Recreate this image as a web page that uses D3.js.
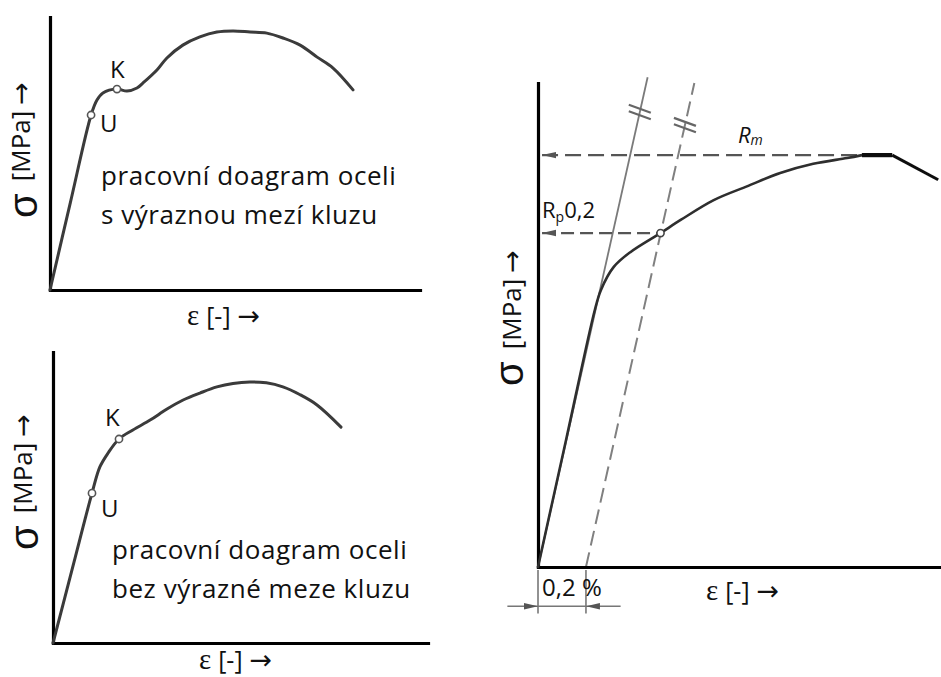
<!DOCTYPE html>
<html>
<head>
<meta charset="utf-8">
<script src="https://cdn.jsdelivr.net/npm/d3@7"></script>
<style>
  html, body { margin: 0; padding: 0; background: #fff; }
  svg { display: block; }
  text { font-family: "Open Sans", "Noto Sans", sans-serif; fill: #111; }
</style>
</head>
<body>
<svg id="chart" width="941" height="677"></svg>
<script>
// ---- Data: strain ε and stress σ in relative units (0–100 of each plot) ----

// Steel with a pronounced yield point (upper-left plot)
const curveWithYield = [
  [0, 0], [5.5, 32], [11.1, 64.1], [12.7, 69.6], [14.3, 72.2], [18.1, 73.6],
  [20.8, 72.9], [23.5, 74.0], [25.1, 75.8], [28.9, 80.6], [31.6, 85.0],
  [35.9, 89.7], [40.5, 92.7], [45.1, 94.5], [49.5, 94.9], [54.1, 94.5],
  [58.6, 94.1], [63.0, 92.3], [67.6, 89.7], [72.2, 85.3], [76.5, 81.3], [81.9, 73.3]
];
const pointsWithYield = [["U", 11.1, 64.1], ["K", 18.1, 73.6]];
const captionWithYield = ["pracovní doagram oceli", "s výraznou mezí kluzu"];

// Steel without a pronounced yield point (lower-left plot)
const curveNoYield = [
  [0, 0], [5.2, 25.8], [10.4, 51.5], [12.5, 60.5], [14.7, 65.3], [17.6, 70.1],
  [21.3, 73.2], [25.9, 76.6], [30.4, 80.4], [34.7, 83.5], [39.2, 85.9],
  [43.7, 88.0], [48.0, 89.2], [52.5, 89.7], [56.9, 89.4], [61.3, 88.0],
  [65.9, 85.3], [70.4, 81.8], [76.8, 74.2]
];
const pointsNoYield = [["U", 10.4, 51.5], ["K", 17.6, 70.1]];
const captionNoYield = ["pracovní doagram oceli", "bez výrazné meze kluzu"];

// Offset (proof stress) construction (right plot)
const proofCurve = [
  [0, 0], [7.0, 26.4], [14.1, 53.1], [15.6, 57.2], [18.8, 62.0], [23.0, 65.1],
  [30.4, 69.0], [35.4, 71.7], [43.6, 75.8], [52.0, 78.7], [60.1, 81.4],
  [68.3, 83.3], [76.7, 84.5], [80.4, 85.1]
];
const neckPlateau = [[80.4, 85.1], [87.9, 85.1]];
const neckDrop = [[87.9, 85.1], [99.3, 80.0]];
const elasticLine = [[0, 0], [27.2, 101.2]];
const offsetLine = [[11.9, 0], [38.8, 100]];
const offsetStrain = 11.9;        // 0,2 % plastic strain
const Rm = 85.1;                  // tensile strength
const Rp02 = 69.0;                // 0,2 % proof stress
const rpPoint = [30.4, 69.0];

const yLabel = ["σ", "[MPa]", "→"];
const xLabel = ["ε", "[-]", "→"];

// ---- Drawing ----
const svg = d3.select("#chart");

const defs = svg.append("defs");
defs.append("marker")
  .attr("id", "arrowHead")
  .attr("viewBox", "0 -5 14 10")
  .attr("refX", 14).attr("refY", 0)
  .attr("markerUnits", "userSpaceOnUse")
  .attr("markerWidth", 14).attr("markerHeight", 10)
  .attr("orient", "auto-start-reverse")
  .append("path")
  .attr("d", "M0,-3.2 L14,0 L0,3.2 Z")
  .attr("fill", "#555");
defs.append("filter").attr("id", "soft")
  .attr("filterUnits", "userSpaceOnUse")
  .attr("x", 0).attr("y", 0).attr("width", 941).attr("height", 677)
  .append("feGaussianBlur").attr("stdDeviation", 0.55);

function drawAxes(g, x, y) {
  g.append("g")
    .attr("transform", `translate(0,${y(0)})`)
    .call(d3.axisBottom(x).tickValues([]).tickSizeOuter(0))
    .call(a => a.select(".domain").attr("stroke", "#000").attr("stroke-width", 3.2).attr("stroke-linecap", "square"));
  g.append("g")
    .attr("transform", `translate(${x(0)},0)`)
    .call(d3.axisLeft(y).tickValues([]).tickSizeOuter(0))
    .call(a => a.select(".domain").attr("stroke", "#000").attr("stroke-width", 3.2).attr("stroke-linecap", "square"));
}

// Vertical stress label; baseX is the baseline of σ (rotated text)
function drawYLabel(g, baseX, cy, unitShift) {
  const t = g.append("text")
    .attr("transform", `translate(${baseX},${cy}) rotate(-90)`)
    .attr("text-anchor", "middle");
  t.append("tspan").attr("font-family", "'Liberation Sans', sans-serif").attr("font-size", 40).text(yLabel[0]);
  t.append("tspan").attr("font-size", 26).attr("dx", 12).attr("dy", -unitShift).text(yLabel[1]);
  t.append("tspan").attr("font-family", "'DejaVu Sans', sans-serif").attr("font-size", 27).attr("dx", 6).text(yLabel[2]);
}

function drawXLabel(g, lx, baseline) {
  const t = g.append("text").attr("x", lx).attr("y", baseline);
  t.append("tspan").attr("font-family", "'Liberation Serif', serif").attr("font-size", 29).text(xLabel[0]);
  t.append("tspan").attr("font-size", 25).attr("dx", 7).text(xLabel[1]);
  t.append("tspan").attr("font-family", "'DejaVu Sans', sans-serif").attr("font-size", 27).attr("dx", 7).text(xLabel[2]);
}

function drawSmallPanel(opts) {
  const { curve, points, caption, xr, yr, yLab, xLab, cap, kOff, uOff } = opts;
  const x = d3.scaleLinear().domain([0, 100]).range(xr);
  const y = d3.scaleLinear().domain([0, 100]).range(yr);
  const g = svg.append("g");
  drawAxes(g, x, y);

  const line = d3.line().x(d => x(d[0])).y(d => y(d[1])).curve(d3.curveCatmullRom.alpha(0.5));
  g.append("path").datum(curve)
    .attr("d", line)
    .attr("fill", "none").attr("stroke", "#3a3a3a").attr("stroke-width", 3)
    .attr("stroke-linejoin", "round").attr("stroke-linecap", "round")
    .attr("filter", "url(#soft)");

  g.selectAll("circle.pt").data(points).join("circle")
    .attr("class", "pt")
    .attr("cx", d => x(d[1])).attr("cy", d => y(d[2])).attr("r", 3.6)
    .attr("fill", "#fff").attr("stroke", "#555").attr("stroke-width", 1.6);

  g.selectAll("text.pt").data(points).join("text")
    .attr("class", "pt")
    .attr("x", d => x(d[1]) + (d[0] === "K" ? kOff[0] : uOff[0]))
    .attr("y", d => y(d[2]) + (d[0] === "K" ? kOff[1] : uOff[1]))
    .attr("font-size", 24)
    .text(d => d[0]);

  g.selectAll("text.cap").data(caption).join("text")
    .attr("class", "cap")
    .attr("x", cap[0]).attr("y", (d, i) => cap[1] + i * 38.5)
    .attr("font-size", 26).attr("letter-spacing", 0.55)
    .text(d => d);

  drawYLabel(g, yLab[0], yLab[1], yLab[2]);
  drawXLabel(g, xLab[0], xLab[1]);
}

drawSmallPanel({
  curve: curveWithYield, points: pointsWithYield, caption: captionWithYield,
  xr: [50, 420], yr: [290, 17],
  yLab: [37, 150, 7], xLab: [187, 325], cap: [101, 185],
  kOff: [-7, -11], uOff: [9, 17]
});

drawSmallPanel({
  curve: curveNoYield, points: pointsNoYield, caption: captionNoYield,
  xr: [53, 428], yr: [643, 352],
  yLab: [38, 482, 6], xLab: [199, 669], cap: [112, 559],
  kOff: [-14, -13], uOff: [9, 24]
});

// ---- Right plot: 0,2 % proof stress construction ----
(function () {
  const x = d3.scaleLinear().domain([0, 100]).range([538, 941]);
  const y = d3.scaleLinear().domain([0, 100]).range([567, 83]);
  const g = svg.append("g");
  const straight = d3.line().x(d => x(d[0])).y(d => y(d[1]));
  const smooth = d3.line().x(d => x(d[0])).y(d => y(d[1])).curve(d3.curveCatmullRom.alpha(0.5));

  // elastic line extended beyond the proportional limit
  g.append("path").datum(elasticLine).attr("d", straight)
    .attr("fill", "none").attr("stroke", "#7a7a7a").attr("stroke-width", 1.8)
    .attr("filter", "url(#soft)");
  // parallel line shifted by 0,2 %
  g.append("path").datum(offsetLine).attr("d", straight)
    .attr("fill", "none").attr("stroke", "#808080").attr("stroke-width", 2)
    .attr("stroke-dasharray", "15 7").attr("filter", "url(#soft)");

  // break marks on both lines
  const breakMarks = [
    [(94.0 / elasticLine[1][1]) * elasticLine[1][0], 94.0],
    [offsetStrain + 91.3 * (offsetLine[1][0] - offsetLine[0][0]) / offsetLine[1][1], 91.3]
  ];
  breakMarks.forEach(p => {
    const cx = x(p[0]), cy = y(p[1]);
    [-3.2, 3.2].forEach(o => {
      g.append("line")
        .attr("x1", cx - 11).attr("y1", cy - 4 + o)
        .attr("x2", cx + 11).attr("y2", cy + 4 + o)
        .attr("stroke", "#666").attr("stroke-width", 2.2)
        .attr("filter", "url(#soft)");
    });
  });

  // horizontal projections of Rm and Rp0,2 onto the stress axis
  g.append("path").datum([[1.0, Rm], [neckPlateau[0][0], Rm]]).attr("d", straight)
    .attr("fill", "none").attr("stroke", "#555").attr("stroke-width", 2.2)
    .attr("stroke-dasharray", "16 7")
    .attr("marker-start", "url(#arrowHead)").attr("filter", "url(#soft)");
  g.append("path").datum([[1.0, Rp02], rpPoint]).attr("d", straight)
    .attr("fill", "none").attr("stroke", "#555").attr("stroke-width", 2.2)
    .attr("stroke-dasharray", "13 6")
    .attr("marker-start", "url(#arrowHead)").attr("filter", "url(#soft)");

  drawAxes(g, x, y);

  // material curve
  g.append("path").datum(proofCurve).attr("d", smooth)
    .attr("fill", "none").attr("stroke", "#2e2e2e").attr("stroke-width", 2.6)
    .attr("stroke-linecap", "round").attr("filter", "url(#soft)");
  g.append("path").datum(neckPlateau).attr("d", straight)
    .attr("fill", "none").attr("stroke", "#111").attr("stroke-width", 4.2)
    .attr("filter", "url(#soft)");
  g.append("path").datum(neckDrop).attr("d", straight)
    .attr("fill", "none").attr("stroke", "#111").attr("stroke-width", 3)
    .attr("filter", "url(#soft)");

  g.append("circle").attr("cx", x(rpPoint[0])).attr("cy", y(rpPoint[1])).attr("r", 3.6)
    .attr("fill", "#fff").attr("stroke", "#444").attr("stroke-width", 1.6);

  // labels
  const rm = g.append("text").attr("x", 738).attr("y", y(Rm) - 12)
    .attr("font-style", "italic").attr("font-size", 22);
  rm.append("tspan").text("R");
  rm.append("tspan").attr("font-size", 14).attr("dy", 2).text("m");

  const rp = g.append("text").attr("x", 542).attr("y", y(Rp02) - 15).attr("font-size", 22);
  rp.append("tspan").text("R");
  rp.append("tspan").attr("font-size", 14).attr("dy", 4).text("p");
  rp.append("tspan").attr("dy", -4).text("0,2");

  // 0,2 % dimension below the strain axis
  const dimS = -8.1;
  [0, offsetStrain].forEach(e => {
    g.append("line").attr("x1", x(e)).attr("x2", x(e))
      .attr("y1", y(-0.6)).attr("y2", y(-9.6))
      .attr("stroke", "#777").attr("stroke-width", 1.6);
  });
  g.append("line").attr("x1", x(-7.6)).attr("x2", x(20.5))
    .attr("y1", y(dimS)).attr("y2", y(dimS))
    .attr("stroke", "#777").attr("stroke-width", 1.4);
  g.append("path").datum([[-7.6, dimS], [0, dimS]]).attr("d", straight)
    .attr("fill", "none").attr("stroke", "none").attr("marker-end", "url(#arrowHead)");
  g.append("path").datum([[20.5, dimS], [offsetStrain, dimS]]).attr("d", straight)
    .attr("fill", "none").attr("stroke", "none").attr("marker-end", "url(#arrowHead)");
  g.append("text").attr("x", 542).attr("y", 596).attr("font-size", 24).text("0,2 %");

  drawYLabel(g, 523, 318, 2);
  drawXLabel(g, 706, 600);
})();
</script>
</body>
</html>
